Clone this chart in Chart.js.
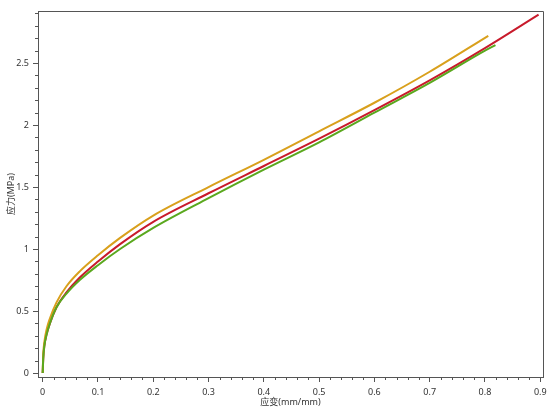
<!DOCTYPE html>
<html><head><meta charset="utf-8">
<script src="https://cdn.jsdelivr.net/npm/chart.js@4/dist/chart.umd.min.js"></script>
<style>html,body{margin:0;padding:0;background:#fff}#wrap{width:554px;height:416px}</style>
</head><body><div id="wrap"><canvas id="c" width="554" height="416"></canvas></div>
<script>
const orangeStrain = [0, 0.001, 0.003, 0.007, 0.013, 0.025, 0.043, 0.067, 0.1, 0.14, 0.2, 0.3, 0.4, 0.5, 0.6, 0.7, 0.806];
const orangeStress = [0, 0.15, 0.25, 0.35, 0.44, 0.57, 0.70, 0.82, 0.95, 1.09, 1.27, 1.50, 1.72, 1.95, 2.18, 2.43, 2.72];
const redStrain = [0, 0.001, 0.003, 0.007, 0.013, 0.025, 0.043, 0.067, 0.1, 0.14, 0.2, 0.3, 0.4, 0.5, 0.6, 0.7, 0.8, 0.897];
const redStress = [0, 0.12, 0.22, 0.31, 0.40, 0.53, 0.65, 0.77, 0.90, 1.04, 1.22, 1.45, 1.67, 1.89, 2.12, 2.36, 2.62, 2.89];
const greenStrain = [0, 0.001, 0.003, 0.007, 0.013, 0.025, 0.043, 0.067, 0.1, 0.14, 0.2, 0.3, 0.4, 0.5, 0.6, 0.7, 0.8, 0.819];
const greenStress = [0, 0.12, 0.22, 0.31, 0.40, 0.53, 0.64, 0.75, 0.87, 1.00, 1.17, 1.41, 1.64, 1.86, 2.10, 2.34, 2.60, 2.645];
const xTickValues = [0, 0.1, 0.2, 0.3, 0.4, 0.5, 0.6, 0.7, 0.8, 0.9];
const yTickValues = [0, 0.5, 1, 1.5, 2, 2.5];
const xTitle = '应变(mm/mm)';
const yTitle = '应力(MPa)';

const zip = (xs, ys) => xs.map((x, i) => ({x: x, y: ys[i]}));
const FONT = '"Noto Sans", "Noto Sans CJK SC", sans-serif';
const AXIS = '#555';

const frameAndMinor = {
  id: 'frameAndMinor',
  afterDraw(chart) {
    const ctx = chart.ctx, a = chart.chartArea;
    const xs = chart.scales.x, ys = chart.scales.y;
    ctx.save();
    ctx.strokeStyle = AXIS; ctx.lineWidth = 1;
    ctx.beginPath();
    ctx.moveTo(a.left, a.top + 0.5); ctx.lineTo(a.right + 0.5, a.top + 0.5); ctx.lineTo(a.right + 0.5, a.bottom);
    ctx.stroke();
    ctx.beginPath();
    for (let i = 0; i <= 45; i++) {
      const v = i * 0.02;
      if (i % 5 === 0) continue;
      const px = Math.round(xs.getPixelForValue(v)) + 0.5;
      ctx.moveTo(px, a.bottom); ctx.lineTo(px, a.bottom + 3);
    }
    for (let i = 0; i <= 29; i++) {
      const v = i * 0.1;
      if (i % 5 === 0) continue;
      const py = Math.round(ys.getPixelForValue(v)) + 0.5;
      ctx.moveTo(a.left, py); ctx.lineTo(a.left - 3, py);
    }
    ctx.stroke();
    ctx.restore();
  }
};

const ds = (label, xs, ys, color) => ({
  label, data: zip(xs, ys), borderColor: color, backgroundColor: color,
  borderWidth: 2, pointRadius: 0, cubicInterpolationMode: 'monotone', fill: false
});

new Chart(document.getElementById('c'), {
  type: 'line',
  data: { datasets: [
    ds('green', greenStrain, greenStress, '#5aa81e'),
    ds('orange', orangeStrain, orangeStress, '#d9a01c'),
    ds('red', redStrain, redStress, '#c81a2b')
  ]},
  options: {
    responsive: false, animation: false,
    layout: { padding: { left: 0, right: 11, top: 11, bottom: 0 } },
    plugins: { legend: { display: false }, tooltip: { enabled: false } },
    scales: {
      x: {
        type: 'linear', min: -0.0085, max: 0.905,
        afterFit(s) { s.height = 39; },
        afterBuildTicks(s) { s.ticks = xTickValues.map(v => ({value: v})); },
        grid: { display: true, drawOnChartArea: false, drawTicks: true, tickLength: 5, color: AXIS },
        border: { display: true, color: AXIS, width: 1 },
        ticks: { font: { family: FONT, size: 9 }, color: '#333', padding: 5, autoSkip: false, maxRotation: 0,
          callback: v => String(Math.round(v * 10) / 10) },
        title: { display: true, text: xTitle, font: { family: FONT, size: 9 }, color: '#333', padding: { top: 0, bottom: 8 } }
      },
      y: {
        type: 'linear', min: -0.032, max: 2.92,
        afterFit(s) { s.width = 38; },
        afterBuildTicks(s) { s.ticks = yTickValues.map(v => ({value: v})); },
        grid: { display: true, drawOnChartArea: false, drawTicks: true, tickLength: 5, color: AXIS },
        border: { display: true, color: AXIS, width: 1 },
        ticks: { font: { family: FONT, size: 9 }, color: '#333', padding: 4, autoSkip: false,
          callback: v => String(Math.round(v * 10) / 10) },
        title: { display: true, text: yTitle, font: { family: FONT, size: 9 }, color: '#333', padding: { top: 6, bottom: 0 } }
      }
    }
  },
  plugins: [frameAndMinor]
});
</script></body></html>
